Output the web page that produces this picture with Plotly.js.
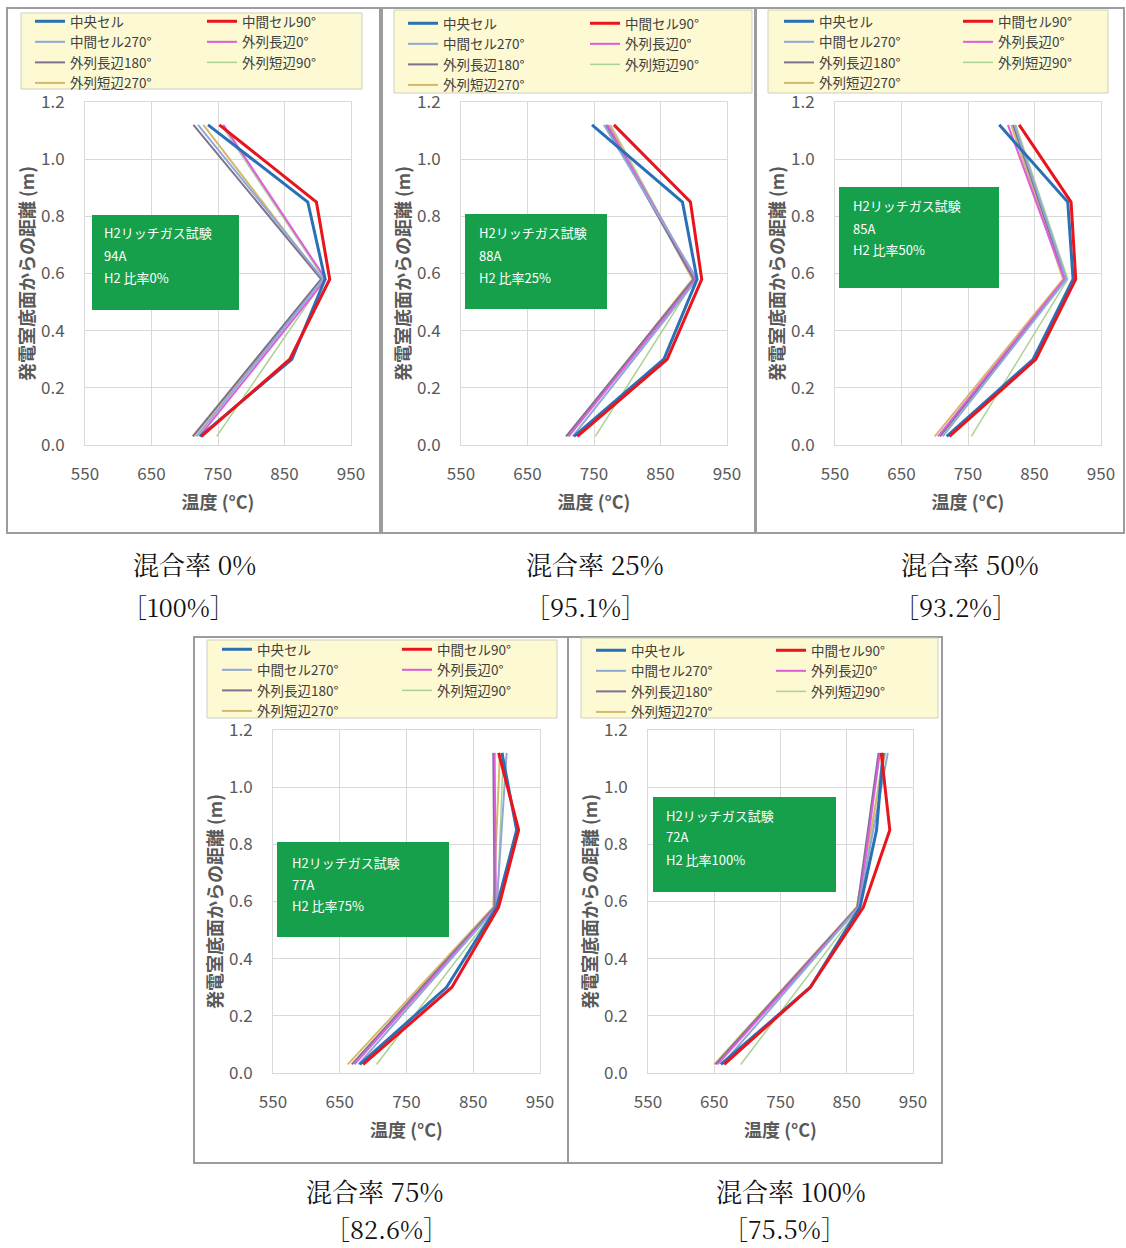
<!DOCTYPE html>
<html><head><meta charset="utf-8">
<script src="https://cdn.plot.ly/plotly-3.0.1.min.js"></script>
<style>html,body{margin:0;padding:0;background:#fff}#chart{width:1126px;height:1248px}</style>
</head><body><div id="chart"></div>
<script>
// ---------------- data ----------------
const seriesNames = ['中央セル','中間セル90°','中間セル270°','外列長辺0°','外列長辺180°','外列短辺90°','外列短辺270°'];
// measurement heights (m): inner cells have 5 thermocouples, others 3
const heightsInner = [0.03, 0.30, 0.58, 0.85, 1.12];
const heightsOuter = [0.03, 0.58, 1.12];
// temperatures (°C) per series, same order as seriesNames
const temps0 = [
  [723, 861, 911, 885, 735],
  [725, 858, 918, 898, 752],
  [718, 908, 720],
  [722, 912, 758],
  [712, 905, 713],
  [748, 910, 755],
  [714, 906, 728]
];
const temps25 = [
  [720, 855, 905, 883, 747],
  [725, 860, 912, 895, 780],
  [718, 905, 765],
  [712, 903, 770],
  [708, 900, 768],
  [752, 902, 775],
  [710, 898, 773]
];
const temps50 = [
  [718, 848, 908, 900, 797],
  [722, 852, 912, 905, 827],
  [712, 898, 820],
  [705, 895, 810],
  [708, 896, 818],
  [755, 900, 822],
  [700, 893, 815]
];
const temps75 = [
  [680, 810, 885, 915, 893],
  [685, 818, 888, 918, 888],
  [678, 885, 900],
  [672, 884, 882],
  [668, 882, 880],
  [705, 886, 895],
  [662, 880, 890]
];
const temps100 = [
  [660, 795, 870, 895, 905],
  [665, 795, 875, 915, 902],
  [662, 868, 912],
  [655, 868, 900],
  [652, 866, 898],
  [690, 870, 905],
  [650, 865, 908]
];
const panelTemps = [temps0, temps25, temps50, temps75, temps100];
const testCurrents = ['94A', '88A', '85A', '77A', '72A'];
const h2Ratios = ['H2 比率0%', 'H2 比率25%', 'H2 比率50%', 'H2 比率75%', 'H2 比率100%'];
const mixCaptions = ['混合率 0%', '混合率 25%', '混合率 50%', '混合率 75%', '混合率 100%'];
const ratioCaptions = ['［100%］', '［95.1%］', '［93.2%］', '［82.6%］', '［75.5%］'];
const testName = 'H2リッチガス試験';
const xTickVals = [550, 650, 750, 850, 950];
const yTickVals = [0.0, 0.2, 0.4, 0.6, 0.8, 1.0, 1.2];
const xTitle = '温度 (°C)';
const yTitle = '発電室底面からの距離 (m)';

// ---------------- styles / geometry (pixels) ----------------
const W = 1126, H = 1248;
const seriesColors = ['#2a70b6', '#e8151d', '#8fa9d6', '#dd5ddd', '#7d7290', '#acd193', '#d5b86c'];
const seriesWidths = [3, 3, 2, 2, 2, 1.5, 2];
const drawOrder = [5, 6, 4, 3, 2, 0, 1];
const legendColumn = [0, 1, 0, 1, 0, 1, 0];
const geo = [
  {box:[7,8,380,533],   plot:[85,102,351,445],  leg:[21,13,362,89],   col:[30,202],  legTop:6,   green:[92,215,239,310],  txtX:102, txtY:[232,255,277], cap:[194,564,178,606]},
  {box:[382,8,755,533], plot:[461,102,727,445], leg:[394,10,752,93],  col:[403,585], legTop:8,   green:[465,214,607,309], txtX:477, txtY:[232,255,277], cap:[595,564,585,606]},
  {box:[756,8,1124,533],plot:[835,102,1101,445],leg:[768,10,1108,93], col:[779,958], legTop:6,   green:[839,187,999,288], txtX:851, txtY:[206,228,250], cap:[970,564,955,606]},
  {box:[194,637,568,1163],plot:[273,730,540,1073],leg:[207,640,557,718],col:[217,397],legTop:634, green:[277,842,449,937], txtX:290, txtY:[862,884,905], cap:[374,1190,386,1228]},
  {box:[568,637,942,1163],plot:[648,730,913,1073],leg:[581,638,938,718],col:[591,771],legTop:635, green:[653,797,836,892], txtX:664, txtY:[815,837,859], cap:[791,1190,785,1228]}
];
const sans = 'Noto Sans CJK JP, Noto Sans, sans-serif';
const serif = 'Noto Serif CJK JP, Liberation Serif, Noto Sans CJK JP, serif';
const px = v => v / W;
const py = v => 1 - v / H;

const data = [];
const layout = {
  width: W, height: H,
  margin: {l:0, r:0, t:0, b:0},
  paper_bgcolor: '#ffffff', plot_bgcolor: '#ffffff',
  showlegend: true,
  font: {family: sans, color: '#404040'},
  shapes: [], annotations: []
};

geo.forEach((g, p) => {
  const suf = p === 0 ? '' : String(p + 1);
  const temps = panelTemps[p];
  drawOrder.forEach(s => {
    const legIdx = p * 2 + legendColumn[s] + 1;
    data.push({
      type: 'scatter', mode: 'lines',
      name: seriesNames[s],
      x: temps[s],
      y: temps[s].length === heightsInner.length ? heightsInner : heightsOuter,
      xaxis: 'x' + suf, yaxis: 'y' + suf,
      legend: legIdx === 1 ? 'legend' : 'legend' + legIdx,
      legendrank: s + 1,
      line: {color: seriesColors[s], width: seriesWidths[s]},
      hoverinfo: 'x+y+name'
    });
  });
  const axCommon = {
    showgrid: true, gridcolor: '#d9d9d9', gridwidth: 1,
    zeroline: false, showline: true, mirror: true, linecolor: '#d9d9d9', linewidth: 1,
    ticks: '', tickfont: {family: sans, size: 17, color: '#595959'},
    fixedrange: true
  };
  layout['xaxis' + suf] = Object.assign({}, axCommon, {
    domain: [px(g.plot[0]), px(g.plot[2])], anchor: 'y' + suf,
    range: [550, 950], tickvals: xTickVals, ticklabelstandoff: 14,
    title: {text: xTitle, font: {family: sans, size: 18, color: '#595959', weight: 'bold'}, standoff: 11}
  });
  layout['yaxis' + suf] = Object.assign({}, axCommon, {
    domain: [py(g.plot[3]), py(g.plot[1])], anchor: 'x' + suf,
    range: [0, 1.2], tickvals: yTickVals, tickformat: '.1f', ticklabelstandoff: 16,
    title: {text: yTitle, font: {family: sans, size: 18, color: '#595959', weight: 'bold'}, standoff: 1}
  });
  // legends (two columns)
  [0, 1].forEach(c => {
    const legIdx = p * 2 + c + 1;
    layout[legIdx === 1 ? 'legend' : 'legend' + legIdx] = {
      x: px(g.col[c]), y: py(g.legTop), xanchor: 'left', yanchor: 'top',
      xref: 'paper', yref: 'paper',
      bgcolor: 'rgba(0,0,0,0)', borderwidth: 0, orientation: 'v',
      itemwidth: 30, tracegroupgap: 0,
      font: {family: sans, size: 13.5, color: '#404040'}
    };
  });
  // panel frame
  layout.shapes.push({type:'rect', xref:'paper', yref:'paper', layer:'below',
    x0: px(g.box[0]), x1: px(g.box[2]), y0: py(g.box[3]), y1: py(g.box[1]),
    line: {color:'#9c9c9c', width:2}, fillcolor:'rgba(0,0,0,0)'});
  // legend background
  layout.shapes.push({type:'rect', xref:'paper', yref:'paper', layer:'below',
    x0: px(g.leg[0]), x1: px(g.leg[2]), y0: py(g.leg[3]), y1: py(g.leg[1]),
    line: {color:'#cfcfc0', width:1}, fillcolor:'#fcf9d3'});
  // green label box
  layout.shapes.push({type:'rect', xref:'paper', yref:'paper', layer:'above',
    x0: px(g.green[0]), x1: px(g.green[2]), y0: py(g.green[3]), y1: py(g.green[1]),
    line: {width:0}, fillcolor:'#17a04b'});
  [testName, testCurrents[p], h2Ratios[p]].forEach((t, i) => {
    layout.annotations.push({xref:'paper', yref:'paper', x: px(g.txtX), y: py(g.txtY[i]),
      xanchor:'left', yanchor:'middle', showarrow:false, text: t,
      font:{family: sans, size: 13, color:'#ffffff'}});
  });
  // captions
  layout.annotations.push({xref:'paper', yref:'paper', x: px(g.cap[0]), y: py(g.cap[1]),
    xanchor:'center', yanchor:'middle', showarrow:false, text: mixCaptions[p],
    font:{family: serif, size: 26, color:'#111111'}});
  layout.annotations.push({xref:'paper', yref:'paper', x: px(g.cap[2]), y: py(g.cap[3]),
    xanchor:'center', yanchor:'middle', showarrow:false, text: ratioCaptions[p],
    font:{family: serif, size: 25, color:'#111111'}});
});

Plotly.newPlot('chart', data, layout, {displayModeBar: false, staticPlot: true});
</script>
</body></html>
